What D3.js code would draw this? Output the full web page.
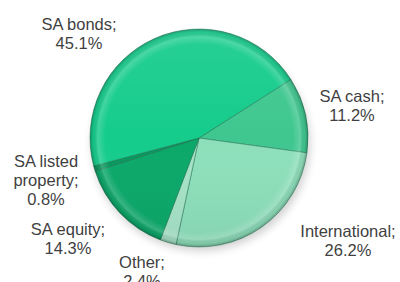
<!DOCTYPE html>
<html>
<head>
<meta charset="utf-8">
<script src="https://cdn.jsdelivr.net/npm/d3@7"></script>
<style>
  body { margin: 0; background: #fff; }
  svg text { font-family: "Liberation Sans", Arial, sans-serif; font-size: 16.5px; fill: #3f3f3f; }
</style>
</head>
<body>
<div id="chart"></div>
<script>
// allocation, clockwise from the SA cash slice
var categories = ["SA cash", "International", "Other", "SA equity", "SA listed property", "SA bonds"];
var values = [11.2, 26.2, 2.4, 14.3, 0.8, 45.1];
var colours = ["#3fc78f", "#8ddfba", "#a6e3c7", "#0ba869", "#09985d", "#15cc8c"];
// label lines (split like the picture) and their anchor points
var labelLines = [["SA cash;", "11.2%"], ["International;", "26.2%"], ["Other;", "2.4%"],
  ["SA equity;", "14.3%"], ["SA listed", "property;", "0.8%"], ["SA bonds;", "45.1%"]];
var labelPos = [[352, 102], [348, 237], [142, 268], [68, 235], [46, 167], [79, 30]];

var width = 400, height = 282;
var cx = 199, cy = 138, r = 109;

var svg = d3.select("#chart").append("svg")
  .attr("width", width)
  .attr("height", height);

var defs = svg.append("defs");
var blur = defs.append("filter").attr("id", "shadow")
  .attr("x", "-20%").attr("y", "-20%").attr("width", "140%").attr("height", "140%");
blur.append("feGaussianBlur").attr("stdDeviation", 4);

var rim = defs.append("radialGradient").attr("id", "rim")
  .attr("gradientUnits", "userSpaceOnUse")
  .attr("cx", 0).attr("cy", 0).attr("r", r);
rim.append("stop").attr("offset", "0.86").attr("stop-color", "#fff").attr("stop-opacity", 0);
rim.append("stop").attr("offset", "0.93").attr("stop-color", "#fff").attr("stop-opacity", 0.18);
rim.append("stop").attr("offset", "0.97").attr("stop-color", "#000").attr("stop-opacity", 0.05);
rim.append("stop").attr("offset", "1").attr("stop-color", "#000").attr("stop-opacity", 0.26);

var gloss = defs.append("linearGradient").attr("id", "gloss")
  .attr("x1", 0).attr("y1", 0).attr("x2", 0).attr("y2", 1);
gloss.append("stop").attr("offset", "0").attr("stop-color", "#fff").attr("stop-opacity", 0.08);
gloss.append("stop").attr("offset", "0.5").attr("stop-color", "#fff").attr("stop-opacity", 0);
gloss.append("stop").attr("offset", "1").attr("stop-color", "#000").attr("stop-opacity", 0.06);

svg.append("ellipse")
  .attr("cx", cx + 2).attr("cy", cy + 6)
  .attr("rx", r).attr("ry", r - 2)
  .attr("fill", "#000").attr("opacity", 0.18)
  .attr("filter", "url(#shadow)");

var startA = 57.5 * Math.PI / 180;
var pie = d3.pie().sort(null)
  .startAngle(startA).endAngle(startA + 2 * Math.PI)
  .value(function (d) { return d; });
var arcs = pie(values);

var arc = d3.arc().innerRadius(0).outerRadius(r);

var g = svg.append("g").attr("transform", "translate(" + cx + "," + cy + ")");

g.selectAll("path.slice")
  .data(arcs)
  .enter().append("path")
  .attr("class", "slice")
  .attr("d", arc)
  .attr("fill", function (d, i) { return colours[i]; })
  .attr("stroke", "#1c6e4c")
  .attr("stroke-opacity", 0.6)
  .attr("stroke-width", 0.8)
  .attr("stroke-linejoin", "round");

g.selectAll("path.rim")
  .data(arcs)
  .enter().append("path")
  .attr("class", "rim")
  .attr("d", arc)
  .attr("fill", "url(#rim)");

g.append("circle").attr("r", r).attr("fill", "url(#gloss)");

var labels = svg.append("g");
labelLines.forEach(function (lines, i) {
  var t = labels.append("text")
    .attr("text-anchor", "middle")
    .attr("x", labelPos[i][0])
    .attr("y", labelPos[i][1]);
  lines.forEach(function (s, j) {
    t.append("tspan")
      .attr("x", labelPos[i][0])
      .attr("dy", j === 0 ? 0 : 19)
      .text(s);
  });
});
</script>
</body>
</html>
